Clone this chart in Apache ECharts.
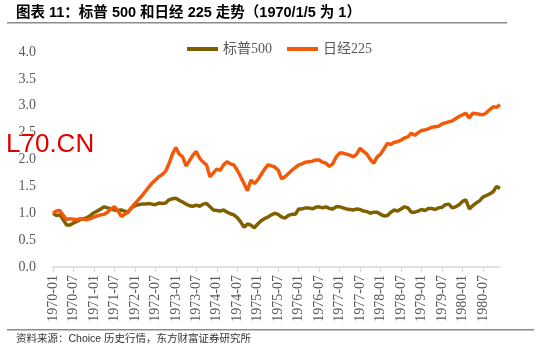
<!DOCTYPE html>
<html>
<head>
    <meta charset="utf-8">
    <title>标普500和日经225走势</title>
    <script src="https://cdn.jsdelivr.net/npm/echarts@6/dist/echarts.min.js"></script>
    <style>
        body { margin: 0; background: #fff; }
    </style>
</head>
<body>
    <div id="main" style="width:550px; height:352px;"></div>
    <script>
        // 月度数据（1970-01 ~ 1980-12），以 1970/1/5 为 1
        var years = [1970, 1971, 1972, 1973, 1974, 1975, 1976, 1977, 1978, 1979, 1980]

        var spx = [
            1.00, 0.96, 0.97, 0.88, 0.78, 0.78, 0.82, 0.85, 0.88, 0.90, 0.92, 0.96,
            1.01, 1.04, 1.08, 1.12, 1.10, 1.08, 1.06, 1.05, 1.06, 1.04, 1.02, 1.10,
            1.14, 1.16, 1.17, 1.17, 1.18, 1.17, 1.16, 1.19, 1.18, 1.19, 1.25, 1.27,
            1.28, 1.24, 1.21, 1.17, 1.14, 1.13, 1.15, 1.13, 1.17, 1.18, 1.12, 1.06,
            1.05, 1.04, 1.06, 1.02, 0.99, 0.97, 0.92, 0.84, 0.74, 0.80, 0.78, 0.73,
            0.80, 0.86, 0.90, 0.93, 0.97, 1.00, 0.98, 0.93, 0.91, 0.96, 0.98, 0.98,
            1.08, 1.08, 1.10, 1.10, 1.08, 1.11, 1.12, 1.10, 1.12, 1.09, 1.08, 1.12,
            1.12, 1.10, 1.08, 1.07, 1.06, 1.08, 1.07, 1.04, 1.03, 1.00, 1.02, 1.02,
            0.98, 0.95, 0.96, 1.02, 1.06, 1.04, 1.08, 1.12, 1.10, 1.02, 1.02, 1.04,
            1.07, 1.05, 1.09, 1.09, 1.07, 1.10, 1.11, 1.16, 1.17, 1.10, 1.12, 1.16,
            1.22, 1.25, 1.08, 1.14, 1.19, 1.23, 1.30, 1.33, 1.36, 1.40, 1.50, 1.46
        ]

        var nikkei = [
            1.00, 1.04, 1.05, 0.96, 0.88, 0.90, 0.89, 0.88, 0.90, 0.89, 0.88, 0.90,
            0.93, 0.95, 0.97, 0.98, 1.02, 1.08, 1.12, 1.05, 0.94, 0.98, 1.02, 1.10,
            1.18, 1.25, 1.32, 1.40, 1.48, 1.56, 1.62, 1.68, 1.72, 1.78, 1.92, 2.10,
            2.22, 2.10, 2.05, 1.88, 1.98, 2.08, 2.15, 2.02, 1.95, 1.90, 1.68, 1.75,
            1.82, 1.80, 1.90, 1.96, 1.92, 1.90, 1.80, 1.68, 1.55, 1.42, 1.62, 1.55,
            1.62, 1.72, 1.82, 1.90, 1.88, 1.86, 1.80, 1.64, 1.68, 1.74, 1.80, 1.85,
            1.90, 1.92, 1.95, 1.96, 1.97, 1.99, 1.99, 1.95, 1.93, 1.87, 1.92, 2.05,
            2.12, 2.12, 2.10, 2.08, 2.05, 2.10, 2.21, 2.15, 2.10, 2.00, 1.93, 2.05,
            2.10, 2.20, 2.30, 2.28, 2.32, 2.33, 2.36, 2.40, 2.42, 2.49, 2.45, 2.50,
            2.54, 2.55, 2.57, 2.60, 2.61, 2.62, 2.66, 2.68, 2.70, 2.72, 2.76, 2.80,
            2.83, 2.86, 2.77, 2.86, 2.85, 2.84, 2.83, 2.87, 2.93, 2.98, 2.97, 3.02
        ]

        var months = []
        for (var i = 0; i < years.length; i++) {
            for (var j = 1; j <= 12; j++) {
                months.push(years[i] + '-' + (j < 10 ? '0' + j : j))
            }
        }

        var serif = '"Liberation Serif", "Noto Sans CJK SC", serif'
        var labelColor = '#595959'

        var myChart = echarts.init(document.querySelector('#main'))

        var option = {
            animation: false,
            backgroundColor: '#fff',
            grid: {
                left: 53,
                right: 50,
                top: 52,
                bottom: 85
            },
            legend: {
                left: 182,
                top: 37,
                itemWidth: 31,
                itemHeight: 4,
                itemGap: 15,
                icon: 'rect',
                textStyle: {
                    fontFamily: serif,
                    fontSize: 14,
                    color: labelColor
                },
                data: ['标普500', '日经225']
            },
            xAxis: {
                type: 'category',
                boundaryGap: false,
                data: months,
                axisLine: {
                    lineStyle: { color: '#d9d9d9', width: 1.5 }
                },
                axisTick: {
                    interval: function(index) { return index % 6 === 0 },
                    length: 5,
                    lineStyle: { color: '#d9d9d9' }
                },
                axisLabel: {
                    interval: function(index) { return index % 6 === 0 },
                    rotate: 90,
                    margin: 8,
                    fontFamily: serif,
                    fontSize: 14,
                    color: labelColor
                },
                splitLine: { show: false }
            },
            yAxis: {
                type: 'value',
                min: 0,
                max: 4,
                interval: 0.5,
                axisLine: { show: false },
                axisTick: { show: false },
                splitLine: { show: false },
                axisLabel: {
                    margin: 17,
                    fontFamily: serif,
                    fontSize: 14,
                    color: labelColor,
                    formatter: function(v) { return v.toFixed(1) }
                }
            },
            series: [
                {
                    name: '标普500',
                    type: 'line',
                    data: spx,
                    showSymbol: false,
                    symbol: 'none',
                    lineStyle: { color: '#7f6000', width: 3.5 },
                    itemStyle: { color: '#7f6000' }
                },
                {
                    name: '日经225',
                    type: 'line',
                    data: nikkei,
                    showSymbol: false,
                    symbol: 'none',
                    lineStyle: { color: '#f25a0a', width: 3.5 },
                    itemStyle: { color: '#f25a0a' }
                }
            ],
            graphic: [
                {
                    type: 'text',
                    left: 16,
                    top: 6,
                    style: {
                        text: '图表 11：标普 500 和日经 225 走势（1970/1/5 为 1）',
                        font: 'bold 14.5px "Liberation Sans", "Noto Sans CJK SC", sans-serif',
                        fill: '#000'
                    }
                },
                {
                    type: 'rect',
                    shape: { x: 7, y: 22, width: 500, height: 1.5 },
                    style: { fill: '#8c8c8c' }
                },
                {
                    type: 'rect',
                    shape: { x: 7, y: 329, width: 527, height: 1.5 },
                    style: { fill: '#8c8c8c' }
                },
                {
                    type: 'text',
                    left: 16,
                    top: 334,
                    style: {
                        text: '资料来源：Choice 历史行情，东方财富证券研究所',
                        font: '10.5px "Liberation Sans", "Noto Sans CJK SC", sans-serif',
                        fill: '#333'
                    }
                },
                {
                    type: 'text',
                    left: 6,
                    top: 132,
                    z: 100,
                    style: {
                        text: 'L70.CN',
                        font: '26px "Liberation Sans", Arial, sans-serif',
                        fill: '#e00000'
                    }
                }
            ]
        }

        myChart.setOption(option)
    </script>
</body>
</html>
